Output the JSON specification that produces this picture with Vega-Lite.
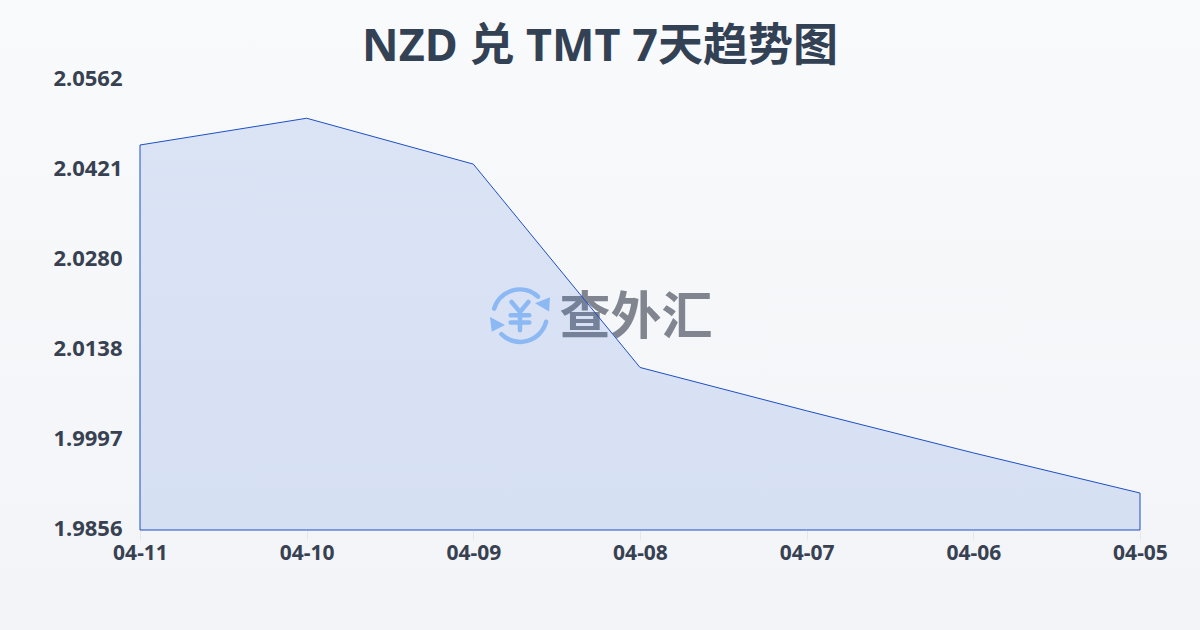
{
  "$schema": "https://vega.github.io/schema/vega-lite/v6.json",
  "width": 1200,
  "height": 630,
  "padding": 0,
  "autosize": {"type": "none"},
  "background": "#f6f7fa",
  "view": {"stroke": null, "fill": {"x1": 0, "y1": 0, "x2": 0, "y2": 1, "gradient": "linear", "stops": [{"offset": 0, "color": "#f9fafc"}, {"offset": 1, "color": "#f2f4f7"}]}},
  "title": {"text": "NZD 兑 TMT 7天趋势图", "font": "Noto Sans, Noto Sans CJK SC", "fontWeight": "bold", "fontSize": 45, "color": "#334155", "anchor": "middle", "offset": -70},
  "datasets": {
    "rates": [
      {"date": "2025-04-11", "rate": 2.0460},
      {"date": "2025-04-10", "rate": 2.0502},
      {"date": "2025-04-09", "rate": 2.0430},
      {"date": "2025-04-08", "rate": 2.0111},
      {"date": "2025-04-07", "rate": 2.0043},
      {"date": "2025-04-06", "rate": 1.9977},
      {"date": "2025-04-05", "rate": 1.9914}
    ],
    "ticks": [
      {"tick": 2.0562}, {"tick": 2.0421}, {"tick": 2.0280}, {"tick": 2.0138}, {"tick": 1.9997}
    ]
  },
  "encoding": {
    "x": {
      "type": "temporal",
      "scale": {"type": "utc", "domain": ["2025-04-05", "2025-04-11"], "reverse": true, "range": [140, 1140], "nice": false},
      "axis": {
        "title": null, "orient": "bottom", "offset": -100, "grid": false, "domain": false,
        "values": [
          {"year": 2025, "month": 4, "date": 11, "utc": true},
          {"year": 2025, "month": 4, "date": 10, "utc": true},
          {"year": 2025, "month": 4, "date": 9, "utc": true},
          {"year": 2025, "month": 4, "date": 8, "utc": true},
          {"year": 2025, "month": 4, "date": 7, "utc": true},
          {"year": 2025, "month": 4, "date": 6, "utc": true},
          {"year": 2025, "month": 4, "date": 5, "utc": true}
        ],
        "labelExpr": "utcFormat(datum.value, '%m-%d')", "labelAngle": 0,
        "labelFont": "Noto Sans", "labelFontWeight": "bold", "labelFontSize": 21, "labelColor": "#374151", "labelPadding": 2,
        "tickColor": "#e5e7eb", "tickSize": 10, "labelOverlap": false, "labelBound": false, "labelFlush": false
      }
    },
    "y": {
      "type": "quantitative",
      "scale": {"domain": [1.9856, 2.0562], "range": [530, 80], "nice": false, "zero": false},
      "axis": {
        "title": null, "orient": "left", "offset": -140, "grid": false, "domain": false, "ticks": false,
        "values": [2.0562, 2.0421, 2.0280, 2.0138, 1.9997, 1.9856],
        "format": ".4f", "labelFont": "Noto Sans", "labelFontWeight": "bold", "labelFontSize": 22, "labelColor": "#374151",
        "labelPadding": 18, "labelOffset": -1.5, "labelOverlap": false, "labelBound": false, "labelFlush": false
      }
    }
  },
  "layer": [
    {
      "data": {"name": "ticks"},
      "mark": {"type": "rule", "color": "#e5e7eb", "strokeWidth": 1},
      "encoding": {
        "y": {"field": "tick", "type": "quantitative"},
        "x": {"datum": "2025-04-11", "type": "temporal"},
        "x2": {"datum": "2025-04-05"}
      }
    },
    {
      "data": {"values": [{"date": "2025-04-08T00:35:00Z", "rate": 2.0187, "label": "查外汇"}]},
      "mark": {"type": "text", "font": "Noto Sans CJK SC", "fontWeight": "bold", "fontSize": 51, "color": "#80858f", "align": "center", "baseline": "middle"},
      "encoding": {
        "x": {"field": "date", "type": "temporal"},
        "y": {"field": "rate", "type": "quantitative"},
        "text": {"field": "label"}
      }
    },
    {
      "data": {"values": [{"date": "2025-04-08T17:17:00Z", "rate": 2.0193}]},
      "mark": {"type": "point", "filled": false, "color": "#9cc6fa", "strokeWidth": 4.5, "opacity": 1, "strokeCap": "round", "size": 3600,
        "shape": "M-.86,-.22A.89,.89 0 0 1 .6,-.62M.87,.22A.89,.89 0 0 1 -.62,.63M-.28,-.44L0,-.11L.28,-.44M-.31,0H.31M-.31,.24H.31M0,-.11V.5"},
      "encoding": {
        "x": {"field": "date", "type": "temporal"},
        "y": {"field": "rate", "type": "quantitative"}
      }
    },
    {
      "data": {"values": [{"date": "2025-04-08T17:17:00Z", "rate": 2.0193}]},
      "mark": {"type": "point", "filled": true, "color": "#9cc6fa", "opacity": 1, "size": 3600,
        "shape": "M1,-.6L.97,-.12L.5,-.4ZM-1,.06L-.94,.55L-.5,.33Z"},
      "encoding": {
        "x": {"field": "date", "type": "temporal"},
        "y": {"field": "rate", "type": "quantitative"}
      }
    },
    {
      "data": {"name": "rates"},
      "mark": {"type": "area", "fill": "#366cda", "fillOpacity": 0.15, "stroke": "#1d4fc4", "strokeWidth": 1, "strokeOpacity": 1},
      "encoding": {
        "x": {"field": "date", "type": "temporal"},
        "y": {"field": "rate", "type": "quantitative"},
        "y2": {"datum": 1.9856}
      }
    }
  ]
}
